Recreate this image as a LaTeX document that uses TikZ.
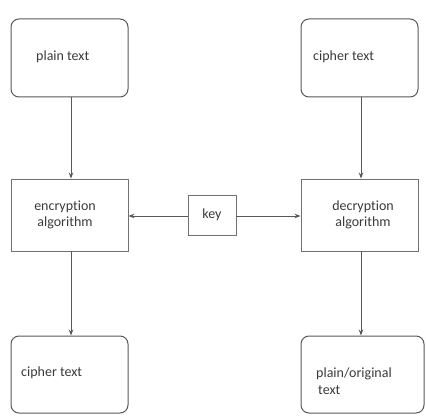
\documentclass[tikz,border=0pt]{standalone}
\usepackage{fontspec}
\setmainfont{Carlito}[Ligatures={NoCommon}]
\usetikzlibrary{arrows.meta}
\definecolor{edge}{HTML}{585858}
\definecolor{txt}{HTML}{3A3A3A}
\tikzset{
  x=1pt,y=-1pt,
  rbox/.style={draw=edge,line width=1pt,rounded corners=8pt,inner sep=0pt},
  sbox/.style={draw=edge!85,line width=0.9pt,inner sep=0pt},
  lbl/.style={text=txt,font=\fontsize{14}{16.5}\selectfont,inner sep=0pt,anchor=west,align=left},
  conn/.style={draw=edge,line width=0.8pt,-{Stealth[length=6pt,width=4.5pt]}}
}
\begin{document}
\begin{tikzpicture}
\useasboundingbox (0,0) rectangle (426,420);
% boxes
\node[rbox,minimum width=117pt,minimum height=78pt] (pt) at (69.5,58) {};
\node[rbox,minimum width=117pt,minimum height=78pt] (ct) at (359.5,58) {};
\node[sbox,minimum width=117pt,minimum height=72pt] (enc) at (69.5,215) {};
\node[sbox,minimum width=117pt,minimum height=72pt] (dec) at (359.5,215) {};
\node[sbox,minimum width=48pt,minimum height=40pt] (key) at (212,215.5) {};
\node[rbox,minimum width=117pt,minimum height=77pt] (ct2) at (69.5,374.5) {};
\node[rbox,minimum width=123pt,minimum height=77pt] (po) at (362.5,374.5) {};
% texts
\node[lbl] (tpt) at (36,57) {plain text};
\node[lbl] (tct) at (313,57) {cipher text};
\node[lbl,align=center,anchor=center] (tenc) at (65,215) {encryption\\algorithm};
\node[lbl,align=center,anchor=center] (tdec) at (363,215) {decryption\\algorithm};
\node[lbl,anchor=center] (tkey) at (212,215) {key};
\node[lbl] (tct2) at (21,373) {cipher text};
\node[lbl] (tpo) at (316,381) {plain/original\\\hspace{2pt}text};
% connectors
\draw[conn] ([xshift=1.5pt]pt.south) -- ([xshift=1.5pt]enc.north);
\draw[conn] ([xshift=1.5pt]ct.south) -- ([xshift=1.5pt]dec.north);
\draw[conn] ([xshift=1.5pt]enc.south) -- ([xshift=1.5pt]ct2.north);
\draw[conn] ([xshift=1.5pt]dec.south) -- ([xshift=1.5pt]dec.south |- po.north);
\draw[conn] (key.west |- 0,216) -- (enc.east |- 0,216);
\draw[conn] (key.east |- 0,216) -- (dec.west |- 0,216);
\end{tikzpicture}
\end{document}
